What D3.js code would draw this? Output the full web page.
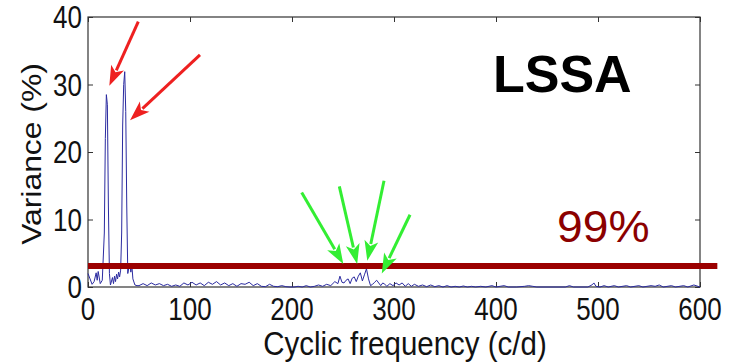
<!DOCTYPE html>
<html><head><meta charset="utf-8">
<script src="https://cdn.jsdelivr.net/npm/d3@7"></script>
<style>html,body{margin:0;padding:0;background:#fff;}svg{display:block;}</style>
</head><body>
<svg id="chart" width="735" height="363"></svg>
<script>
// ---- data ----
const freq = [0,2,4,6,8,9,10,12,14,16,17,18,19,20,21,22,24,25,26,27,28,29,30,31,32,33,34,35,36,37,38,39,40,41,42,43,44,46,48,
  50,54,58,62,66,70,74,78,82,86,90,94,98,102,106,110,114,118,122,126,130,134,138,142,146,150,154,158,162,166,170,174,178,182,186,190,194,198,
  202,206,210,214,218,222,226,230,234,238,242,245,247,249,251,253,255,257,259,261,263,265,267,269,271,273,275,277,279,281,283,285,287,289,291,293,296,299,
  302,305,308,311,314,317,320,324,328,332,336,340,344,348,352,356,360,364,368,372,376,380,385,390,396,400,404,408,412,420,428,432,436,440,450,468,472,476,490,494,496,498,
  502,506,510,516,520,528,532,540,544,552,556,560,564,572,576,584,588,594,598,600];
const variance = [2.0,1.2,0.4,0.8,2.1,1.0,2.3,0.5,1.0,8,22,28.5,27,12,2,0.3,1.4,0.5,1.6,0.8,1.9,1.2,2.2,1.5,2.5,8,24,30,31.9,26,12,2,2.8,3.5,2.2,3.2,1.2,0.3,0.2,
  0.2,0.5,0.2,0.6,0.3,0.5,0.2,0.4,0.1,0.3,0.1,0.6,0.3,0.7,0.3,0.6,0.2,0.7,0.4,0.8,0.3,0.6,0.2,0.5,0.1,0.5,0.4,0.7,0.2,0.5,0.1,0.05,0.4,0.1,0.05,0.2,0.05,0.0,
  0,0.1,0,0.2,0,0.1,0.3,0.1,0.4,0.2,0.8,0.5,1.6,0.7,0.6,1.0,1.2,0.5,1.3,1.5,0.8,1.6,2.1,0.9,1.8,2.7,1.2,0.2,0.4,0.7,1.0,0.6,0.2,0.6,0.4,0.1,0.5,0.2,
  0.6,0.3,0.6,0.1,0.5,0.1,0.4,0.1,0.3,0.05,0.3,0.05,0.2,0,0.2,0,0.1,0,0.15,0,0.1,0,0.1,0,0.2,0,0.1,0.2,0,0,0.1,0.2,0.1,0,0,0,0.2,0,0,0.3,0.6,0.1,
  0,0.2,0,0.2,0,0.2,0,0.2,0,0.2,0.1,0.3,0,0.2,0,0.2,0,0.3,0.1,0];
const xTicks = [0,100,200,300,400,500,600];
const yTicks = [0,10,20,30,40];
const threshold = 3.1;           // 99% significance level
const thresholdEnd = 617;        // red line runs past the right edge
const redArrows = [ {x1:49.3,y1:39.3,x2:20.9,y2:29.8}, {x1:109.8,y1:34.4,x2:41.2,y2:24.7} ];
const greenArrows = [ {x1:209.5,y1:14.0,x2:250.3,y2:3.4}, {x1:246.4,y1:14.9,x2:263.9,y2:3.4},
                      {x1:290.2,y1:15.75,x2:273.8,y2:3.9}, {x1:315.7,y1:10.7,x2:288,y2:2.0} ];
const labels = {title:"LSSA", level:"99%", xLabel:"Cyclic frequency (c/d)", yLabel:"Variance (%)"};

// ---- layout ----
const svg = d3.select("#chart");
const L = 88, R = 700, T = 17, B = 287;
const x = d3.scaleLinear().domain([0,600]).range([L,R]);
const y = d3.scaleLinear().domain([0,40]).range([B,T]);
const font = "'Liberation Sans', Arial, sans-serif";

// box
svg.append("rect").attr("x",L).attr("y",T).attr("width",R-L).attr("height",B-T)
  .attr("fill","none").attr("stroke","#333").attr("stroke-width",1.2);

// axes
const xa = svg.append("g").attr("transform",`translate(0,${B})`)
  .call(d3.axisBottom(x).tickValues(xTicks).tickSize(-5).tickPadding(0).tickFormat(d3.format("d")));
const xaTop = svg.append("g").attr("transform",`translate(0,${T})`)
  .call(d3.axisTop(x).tickValues(xTicks).tickSize(-5).tickFormat(""));
const ya = svg.append("g").attr("transform",`translate(${L},0)`)
  .call(d3.axisLeft(y).tickValues(yTicks).tickSize(-5).tickPadding(0).tickFormat(d3.format("d")));
const yaR = svg.append("g").attr("transform",`translate(${R},0)`)
  .call(d3.axisRight(y).tickValues(yTicks).tickSize(-5).tickFormat(""));
[xa,xaTop,ya,yaR].forEach(g=>{ g.select(".domain").remove(); g.selectAll(".tick line").attr("stroke","#333"); });

xa.selectAll(".tick text").text(null);
ya.selectAll(".tick text").text(null);
// tick labels (slightly tall glyphs as in reference)
const tickG = svg.append("g").attr("font-family",font).attr("font-size",26).attr("fill","#111");
xTicks.forEach(t=>{
  tickG.append("text").attr("transform",`translate(${x(t)},${B+33}) scale(1,1.18)`)
    .attr("text-anchor","middle").text(t);
});
yTicks.forEach(t=>{
  tickG.append("text").attr("transform",`translate(${L-6},${y(t)+11}) scale(1,1.18)`)
    .attr("text-anchor","end").text(t);
});

// axis labels
svg.append("text").attr("transform",`translate(405,355) scale(1,1.15)`)
  .attr("text-anchor","middle").attr("font-family",font).attr("font-size",29.5).attr("fill","#111")
  .text(labels.xLabel);
svg.append("text").attr("transform",`translate(41,154) rotate(-90) scale(1.18,1)`)
  .attr("text-anchor","middle").attr("font-family",font).attr("font-size",27).attr("fill","#111")
  .text(labels.yLabel);

// spectrum
const pts = freq.map((f,i)=>[f,variance[i]]);
svg.append("path").datum(pts)
  .attr("d", d3.line().x(d=>x(d[0])).y(d=>y(d[1])))
  .attr("fill","none").attr("stroke","#2b2ba0").attr("stroke-width",1);

// threshold line
svg.append("line").attr("x1",x(0)).attr("x2",x(thresholdEnd)).attr("y1",y(threshold)).attr("y2",y(threshold))
  .attr("stroke","#9b0000").attr("stroke-width",6);

// arrows
function arrow(a,color){
  const x1=x(a.x1), y1=y(a.y1), x2=x(a.x2), y2=y(a.y2);
  const ang=Math.atan2(y2-y1,x2-x1), hl=20, hw=7;
  const bx=x2-hl*Math.cos(ang), by=y2-hl*Math.sin(ang);
  svg.append("line").attr("x1",x1).attr("y1",y1).attr("x2",bx+3*Math.cos(ang)).attr("y2",by+3*Math.sin(ang))
    .attr("stroke",color).attr("stroke-width",3);
  const px=-Math.sin(ang), py=Math.cos(ang);
  svg.append("path").attr("d",`M${x2},${y2}L${bx+hw*px},${by+hw*py}L${bx+5*Math.cos(ang)},${by+5*Math.sin(ang)}L${bx-hw*px},${by-hw*py}Z`)
    .attr("fill",color);
}
redArrows.forEach(a=>arrow(a,"#ee2020"));
greenArrows.forEach(a=>arrow(a,"#33ee33"));

// texts
svg.append("text").attr("x",x(397)).attr("y",y(28.9)).attr("font-family",font).attr("font-weight","bold")
  .attr("font-size",52).attr("fill","#000").text(labels.title);
svg.append("text").attr("transform",`translate(${x(459.8)},${y(6.67)}) scale(1.05,1)`).attr("font-family",font)
  .attr("font-size",44).attr("fill","#8b0000").text(labels.level);
</script>
</body></html>
